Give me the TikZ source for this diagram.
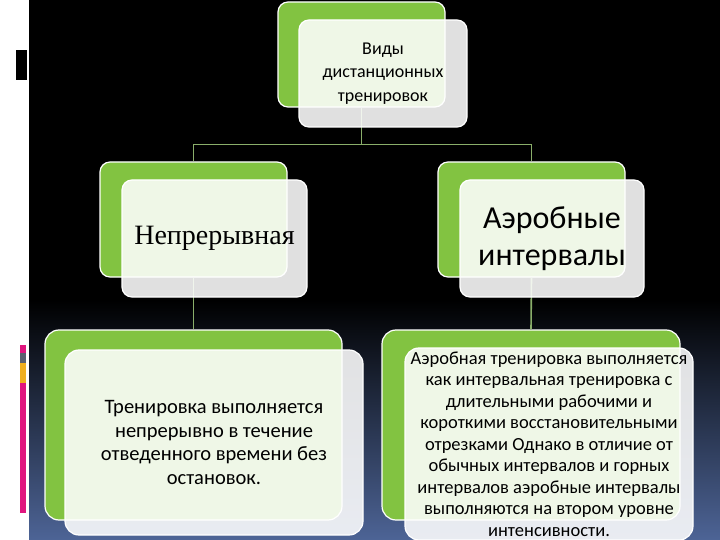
\documentclass[tikz,border=0pt]{standalone}
\usepackage{fontspec}
\setmainfont{Carlito}
\newfontfamily\serifru{Liberation Serif}
\usepackage{xcolor}
\definecolor{leaf}{HTML}{82C341}
\definecolor{stem}{HTML}{8AAE6A}
\definecolor{dusk}{HTML}{4D6496}
\definecolor{rose}{HTML}{E0167F}
\definecolor{slate}{HTML}{5A6070}
\definecolor{amber}{HTML}{F0B020}
\usetikzlibrary{positioning,calc}
\tikzset{
  backbox/.style={draw=white, line width=1.2pt, fill=leaf, rounded corners=10pt, inner sep=0pt},
  frontbox/.style={draw=white, line width=1.2pt, fill=white, fill opacity=0.88, text opacity=1,
    rounded corners=10pt, align=center, inner sep=0pt},
  link/.style={stem, line width=1.6pt},
}
\begin{document}
\begin{tikzpicture}[x=1pt, y=-1pt]
  \useasboundingbox (0,0) rectangle (720,540);
  % backdrop and side strip
  \fill[black] (29,0) rectangle (720,540);
  \shade[top color=black, bottom color=dusk] (29,300) rectangle (720,540);
  \fill[white] (0,0) rectangle (29,540);
  \fill[black] (16,50) rectangle (27,80);
  \fill[rose] (20,345) rectangle (26,353);
  \fill[slate] (20,353) rectangle (26,363);
  \fill[amber] (20,363) rectangle (26,383);
  \fill[rose] (20,383) rectangle (26,513);
  % green boxes
  \node[backbox, minimum width=167pt, minimum height=105pt] (kindsbk) at (361.5,54.5) {};
  \node[backbox, minimum width=187pt, minimum height=115pt] (contbk) at (193.5,219.5) {};
  \node[backbox, minimum width=187pt, minimum height=115pt] (aerobk) at (531.5,219.5) {};
  \node[backbox, minimum width=297pt, minimum height=190pt, rounded corners=14pt] (contdescbk) at (193.5,425) {};
  \node[backbox, minimum width=298pt, minimum height=190pt, rounded corners=14pt] (aerodescbk) at (531,425) {};
  % connectors
  \coordinate (fork) at ($(kindsbk.south)+(0,37)$);
  \draw[link] (kindsbk.south) -- (fork) -| (contbk.north);
  \draw[link] (fork) -| (aerobk.north);
  \draw[link] (contbk.south) -- (contdescbk.north);
  \draw[link] (aerobk.south) -- (aerodescbk.north);
  % front boxes
  \node[frontbox, minimum width=168pt, minimum height=107pt, font=\fontsize{18}{23.5}\selectfont] (kinds) at (383,73.5)
    {Виды\\дистанционных\\тренировок};
  \node[frontbox, minimum width=185pt, minimum height=117pt, font=\serifru\fontsize{28}{30}\selectfont] (cont) at (214.5,238.5)
    {Непрерывная};
  \node[frontbox, minimum width=184pt, minimum height=117pt, font=\fontsize{32}{37}\selectfont] (aero) at (552,238.5)
    {Аэробные\\интервалы};
  \node[frontbox, minimum width=298pt, minimum height=185pt, rounded corners=14pt, font=\fontsize{20.5}{23.5}\selectfont] (contdesc) at (214,442.5)
    {Тренировка выполняется\\непрерывно в течение\\отведенного времени без\\остановок.};
  \node[frontbox, minimum width=288pt, minimum height=192pt, rounded corners=14pt, font=\fontsize{18.5}{21.5}\selectfont] (aerodesc) at (549,444)
    {Аэробная тренировка выполняется\\как интервальная тренировка с\\длительными рабочими и\\короткими восстановительными\\отрезками Однако в отличие от\\обычных интервалов и горных\\интервалов аэробные интервалы\\выполняются на втором уровне\\интенсивности.};
\end{tikzpicture}
\end{document}
